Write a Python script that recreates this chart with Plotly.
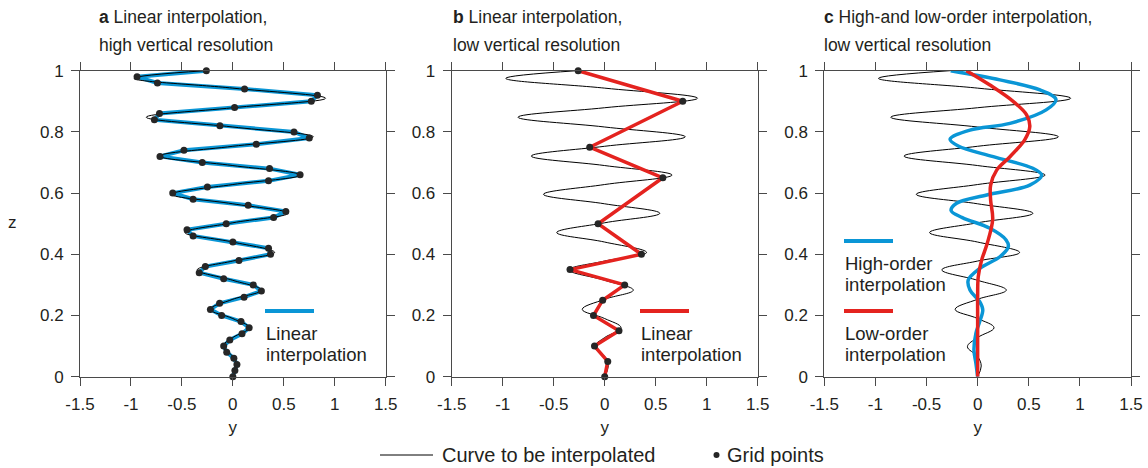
import plotly.graph_objects as go

W, H = 1148, 468

# ---- Curve to be interpolated (extrema and zero crossings) ----
curve_z = [1.000, 0.975, 0.943, 0.910, 0.879, 0.848, 0.816, 0.784, 0.753, 0.721, 0.690,
           0.659, 0.628, 0.596, 0.565, 0.534, 0.503, 0.471, 0.440, 0.406, 0.378, 0.349,
           0.315, 0.283, 0.253, 0.220, 0.190, 0.160, 0.128, 0.098, 0.066, 0.035, 0.000]
curve_y = [-0.27, -0.97, 0.00, 0.91, 0.00, -0.85, 0.00, 0.79, 0.00, -0.72, 0.00,
           0.66, 0.00, -0.60, 0.00, 0.54, 0.00, -0.47, 0.00, 0.41, 0.00, -0.35,
           0.00, 0.28, 0.00, -0.22, 0.00, 0.16, 0.00, -0.10, 0.00, 0.035, 0.00]

# ---- Panel a: high vertical resolution grid points ----
grid_hi_z = [0.00, 0.02, 0.04, 0.06, 0.08, 0.10, 0.12, 0.14, 0.16, 0.18, 0.20,
             0.22, 0.24, 0.26, 0.28, 0.30, 0.32, 0.34, 0.36, 0.38, 0.40,
             0.42, 0.44, 0.46, 0.48, 0.50, 0.52, 0.54, 0.56, 0.58, 0.60,
             0.62, 0.64, 0.66, 0.68, 0.70, 0.72, 0.74, 0.76, 0.78, 0.80,
             0.82, 0.84, 0.86, 0.88, 0.90, 0.92, 0.94, 0.96, 0.98, 1.00]
grid_hi_y = [0.00, 0.02, 0.04, 0.01, -0.06, -0.09, -0.03, 0.09, 0.16, 0.08, -0.11,
             -0.22, -0.13, 0.11, 0.28, 0.20, -0.09, -0.33, -0.27, 0.06, 0.37,
             0.35, 0.00, -0.39, -0.45, -0.065, 0.40, 0.52, 0.15, -0.39, -0.59,
             -0.25, 0.35, 0.66, 0.36, -0.30, -0.715, -0.48, 0.23, 0.75, 0.60,
             -0.127, -0.77, -0.72, 0.017, 0.77, 0.83, 0.115, -0.74, -0.94, -0.26]

# ---- Panel b: low vertical resolution grid points ----
grid_lo_z = [0.00, 0.05, 0.10, 0.15, 0.20, 0.25, 0.30, 0.35, 0.40, 0.50, 0.65, 0.75, 0.90, 1.00]
grid_lo_y = [0.00, 0.03, -0.10, 0.14, -0.11, -0.02, 0.196, -0.34, 0.36, -0.065, 0.57, -0.147, 0.765, -0.26]

# ---- Panel c: high- and low-order interpolation ----
high_z = [1.000, 0.970, 0.937, 0.906, 0.872, 0.828, 0.806, 0.776, 0.754, 0.719, 0.681,
          0.659, 0.626, 0.594, 0.567, 0.543, 0.520, 0.485, 0.447, 0.425, 0.392, 0.354,
          0.316, 0.283, 0.245, 0.218, 0.180, 0.142, 0.087, 0.044, 0.000]
high_y = [-0.264, 0.218, 0.61, 0.766, 0.67, 0.316, -0.075, -0.27, -0.19, 0.153, 0.54,
          0.626, 0.51, 0.088, -0.206, -0.26, -0.15, 0.12, 0.278, 0.30, 0.218, 0.02,
          -0.092, -0.075, 0.02, 0.05, 0.02, -0.017, -0.036, -0.017, 0.00]
low_z = [1.000, 0.953, 0.899, 0.855, 0.817, 0.774, 0.719, 0.675, 0.626, 0.577, 0.514,
         0.436, 0.381, 0.327, 0.261, 0.185, 0.087, 0.000]
low_y = [-0.11, 0.12, 0.35, 0.48, 0.51, 0.46, 0.316, 0.186, 0.127, 0.127, 0.147,
         0.094, 0.039, 0.006, 0.00, 0.00, 0.00, 0.00]

x_ticks = [-1.5, -1, -0.5, 0, 0.5, 1, 1.5]
x_tick_labels = ["-1.5", "-1", "-0.5", "0", "0.5", "1", "1.5"]
z_ticks = [0, 0.2, 0.4, 0.6, 0.8, 1.0]
z_tick_labels = ["0", "0.2", "0.4", "0.6", "0.8", "1"]

title_line1 = ["<b>a</b> Linear interpolation,", "<b>b</b> Linear interpolation,",
               "<b>c</b> High-and low-order interpolation,"]
title_line2 = ["high vertical resolution", "low vertical resolution", "low vertical resolution"]

BLUE = "#0a96d6"
RED = "#e4231f"
INK = "#231f20"
AXIS = "#4a4a4a"
FONT = "Liberation Sans, Arial, Helvetica, sans-serif"
FS = 17          # tick labels / axis titles
FS_TITLE = 17.5
FS_LEG = 18.5
FS_BOTTOM = 20

def px(x):
    return x / W

def py(y):
    return 1 - y / H

x_domains = [[px(80), px(385.7)], [px(451.7), px(757.7)], [px(824.3), px(1131)]]
y_domain = [py(376.7), py(70.7)]

fig = go.Figure()

def curve_trace(ax):
    return go.Scatter(x=curve_y, y=curve_z, mode="lines", xaxis=ax[0], yaxis=ax[1],
                      line=dict(color="black", width=1, shape="spline", smoothing=1.1),
                      hoverinfo="skip", showlegend=False, cliponaxis=False)

# Panel a
fig.add_trace(go.Scatter(x=grid_hi_y, y=grid_hi_z, mode="lines", xaxis="x", yaxis="y",
                         line=dict(color=BLUE, width=4), showlegend=False, cliponaxis=False))
fig.add_trace(curve_trace(("x", "y")))
fig.add_trace(go.Scatter(x=grid_hi_y, y=grid_hi_z, mode="markers", xaxis="x", yaxis="y",
                         marker=dict(color="#262626", size=7), showlegend=False, cliponaxis=False))
# Panel b
fig.add_trace(curve_trace(("x2", "y2")))
fig.add_trace(go.Scatter(x=grid_lo_y, y=grid_lo_z, mode="lines", xaxis="x2", yaxis="y2",
                         line=dict(color=RED, width=3.5), showlegend=False, cliponaxis=False))
fig.add_trace(go.Scatter(x=grid_lo_y, y=grid_lo_z, mode="markers", xaxis="x2", yaxis="y2",
                         marker=dict(color="#262626", size=7), showlegend=False, cliponaxis=False))
# Panel c
fig.add_trace(curve_trace(("x3", "y3")))
fig.add_trace(go.Scatter(x=high_y, y=high_z, mode="lines", xaxis="x3", yaxis="y3",
                         line=dict(color=BLUE, width=3.5, shape="spline", smoothing=1.0),
                         showlegend=False, cliponaxis=False))
fig.add_trace(go.Scatter(x=low_y, y=low_z, mode="lines", xaxis="x3", yaxis="y3",
                         line=dict(color=RED, width=3.5, shape="spline", smoothing=1.0),
                         showlegend=False, cliponaxis=False))

axis_common = dict(showline=True, linecolor=AXIS, linewidth=1, mirror="ticks",
                   ticks="outside", ticklen=8, tickcolor=AXIS, tickwidth=1,
                   showgrid=False, zeroline=False, automargin=False,
                   tickfont=dict(size=FS, color=INK))

layout = dict(width=W, height=H, margin=dict(l=0, r=0, t=0, b=0, autoexpand=False),
              paper_bgcolor="white", plot_bgcolor="white",
              font=dict(family=FONT, size=FS, color=INK), showlegend=False)

for i in range(3):
    sfx = "" if i == 0 else str(i + 1)
    layout["xaxis" + sfx] = dict(axis_common, domain=x_domains[i], range=[-1.5, 1.5],
                                 tickvals=x_ticks, ticktext=x_tick_labels,
                                 anchor="y" + sfx, ticklabelstandoff=4,
                                 title=dict(text="y", standoff=8, font=dict(size=FS)))
    layout["yaxis" + sfx] = dict(axis_common, domain=y_domain, range=[0, 1],
                                 tickvals=z_ticks, ticktext=z_tick_labels,
                                 anchor="x" + sfx, ticklabelstandoff=4)

fig.update_layout(**layout)

annotations = []
shapes = []
title_x = [97, 451, 822]

def text_at(text, x, y, size, anchor="left"):
    annotations.append(dict(text=text, x=px(x), y=py(y), xref="paper", yref="paper",
                            xanchor=anchor, yanchor="middle", align="left", showarrow=False,
                            font=dict(size=size, color=INK)))

for i in range(3):
    text_at(title_line1[i], title_x[i], 17, FS_TITLE)
    text_at(title_line2[i], title_x[i], 45, FS_TITLE)
text_at("z", 12, 222, FS, anchor="center")

# in-panel legends
def legend_item(x0, yline, color, line1, line2):
    shapes.append(dict(type="line", xref="paper", yref="paper", x0=px(x0), x1=px(x0 + 49),
                       y0=py(yline), y1=py(yline), line=dict(color=color, width=4)))
    text_at(line1, x0 - 1, yline + 22, FS_LEG)
    text_at(line2, x0 - 1, yline + 43, FS_LEG)

legend_item(265, 311, BLUE, "Linear", "interpolation")
legend_item(640, 311, RED, "Linear", "interpolation")
legend_item(844, 241, BLUE, "High-order", "interpolation")
legend_item(844, 311, RED, "Low-order", "interpolation")

# bottom legend
shapes.append(dict(type="line", xref="paper", yref="paper", x0=px(380), x1=px(433),
                   y0=py(455), y1=py(455), line=dict(color="black", width=1)))
text_at("Curve to be interpolated", 440, 455, FS_BOTTOM)
shapes.append(dict(type="circle", xref="paper", yref="paper", x0=px(713.5), x1=px(719.5),
                   y0=py(458), y1=py(452), fillcolor="#262626", line=dict(width=0)))
text_at("Grid points", 725, 455, FS_BOTTOM)

fig.update_layout(annotations=annotations, shapes=shapes)
fig.write_html("out.html", config={"displayModeBar": False},
               post_script="document.body.style.margin='0';document.body.style.overflow='hidden';")
